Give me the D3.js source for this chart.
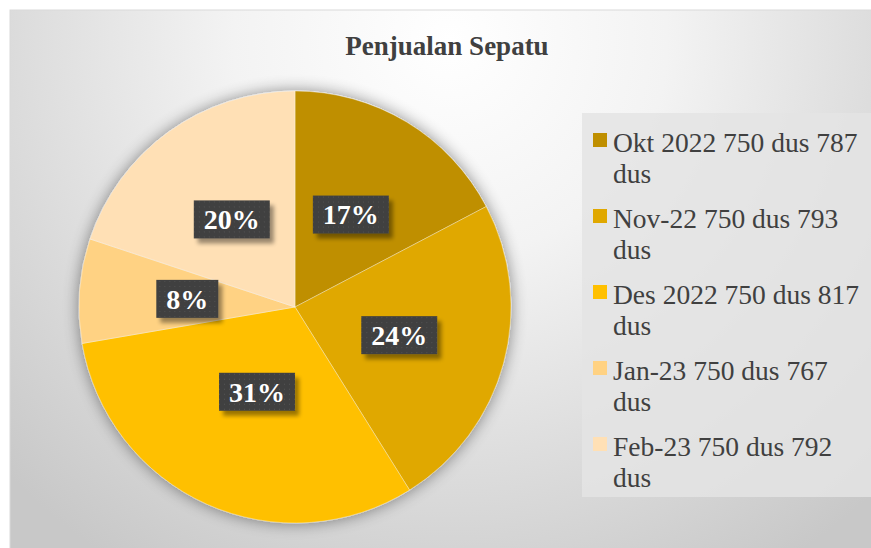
<!DOCTYPE html>
<html>
<head>
<meta charset="utf-8">
<script src="https://cdn.jsdelivr.net/npm/d3@7"></script>
<style>
  body { margin: 0; background: #fff; }
  #vis_container { width: 871px; height: 548px; }
</style>
</head>
<body>
<div id="vis_container"></div>
<script>
// data
var categories = ["Okt 2022 750 dus 787 dus", "Nov-22 750 dus 793 dus", "Des 2022 750 dus 817 dus", "Jan-23 750 dus 767 dus", "Feb-23 750 dus 792 dus"];
var shares = [17.3, 23.8, 31.2, 7.8, 19.9];
var colors = ["#BF8F00", "#E0A800", "#FFC000", "#FFD283", "#FFE0B5"];
var labelPos = [0.5, 0.5, 0.43, 0.5, 0.5]; // label distance as a share of the radius
var title = "Penjualan Sepatu";

var width = 871, height = 548;
var cx = 295, cy = 307, radius = 216;
var serif = "'Liberation Serif', 'Times New Roman', 'DejaVu Serif', serif";

var svg = d3.select("#vis_container").append("svg")
  .attr("width", width)
  .attr("height", height);

var defs = svg.append("defs");

// panel background gradient
var bg = defs.append("radialGradient")
  .attr("id", "bgGrad")
  .attr("gradientUnits", "userSpaceOnUse")
  .attr("cx", 450).attr("cy", 40).attr("r", 620);
bg.append("stop").attr("offset", "0%").attr("stop-color", "#ffffff");
bg.append("stop").attr("offset", "35%").attr("stop-color", "#f3f3f3");
bg.append("stop").attr("offset", "100%").attr("stop-color", "#c8c8c8");

// soft shadow for the pie
var f = defs.append("filter").attr("id", "pieShadow")
  .attr("x", "-20%").attr("y", "-20%").attr("width", "140%").attr("height", "140%");
f.append("feGaussianBlur").attr("in", "SourceAlpha").attr("stdDeviation", 8).attr("result", "b");
f.append("feComponentTransfer").attr("in", "b").attr("result", "s")
  .append("feFuncA").attr("type", "linear").attr("slope", 0.45);
var fm = f.append("feMerge");
fm.append("feMergeNode").attr("in", "s");
fm.append("feMergeNode").attr("in", "SourceGraphic");

// shadow for label boxes
var f2 = defs.append("filter").attr("id", "boxShadow")
  .attr("x", "-20%").attr("y", "-20%").attr("width", "150%").attr("height", "160%");
f2.append("feGaussianBlur").attr("in", "SourceAlpha").attr("stdDeviation", 2).attr("result", "b");
f2.append("feOffset").attr("in", "b").attr("dx", 4).attr("dy", 5).attr("result", "o");
f2.append("feComponentTransfer").attr("in", "o").attr("result", "s")
  .append("feFuncA").attr("type", "linear").attr("slope", 0.4);
var fm2 = f2.append("feMerge");
fm2.append("feMergeNode").attr("in", "s");
fm2.append("feMergeNode").attr("in", "SourceGraphic");

// dotted pattern for label boxes
var pat = defs.append("pattern").attr("id", "dots")
  .attr("width", 5).attr("height", 5).attr("patternUnits", "userSpaceOnUse");
pat.append("rect").attr("width", 5).attr("height", 5).attr("fill", "#3f3f3f");
pat.append("rect").attr("x", 2).attr("y", 2).attr("width", 1).attr("height", 1).attr("fill", "#555");

svg.append("rect")
  .attr("x", 10).attr("y", 10)
  .attr("width", width).attr("height", height)
  .attr("fill", "url(#bgGrad)")
  .attr("stroke", "#d9d9d9");

svg.append("text")
  .attr("x", 447).attr("y", 55)
  .attr("text-anchor", "middle")
  .attr("font-family", serif)
  .attr("font-weight", "bold")
  .attr("font-size", 27)
  .attr("fill", "#404040")
  .text(title);

var pie = d3.pie().sort(null).value(function(d) { return d; });
var arc = d3.arc().innerRadius(0).outerRadius(radius);
var arcs = pie(shares);
var total = d3.sum(shares);

var g = svg.append("g").attr("transform", "translate(" + cx + "," + cy + ")");

g.append("g").attr("filter", "url(#pieShadow)")
  .selectAll("path")
  .data(arcs)
  .enter()
  .append("path")
    .attr("d", arc)
    .attr("fill", function(d, i) { return colors[i]; })
    .attr("stroke", "rgba(255,255,255,0.35)")
    .attr("stroke-width", 1);

var labels = g.selectAll(".lbl")
  .data(arcs)
  .enter()
  .append("g")
    .attr("class", "lbl")
    .attr("transform", function(d, i) {
      var r = radius * labelPos[i];
      var c = d3.arc().innerRadius(r).outerRadius(r).centroid(d);
      return "translate(" + c[0] + "," + c[1] + ")";
    });

labels.append("text")
  .attr("text-anchor", "middle")
  .attr("dy", "0.35em")
  .attr("font-family", serif)
  .attr("font-weight", "bold")
  .attr("font-size", 28)
  .attr("fill", "#fff")
  .text(function(d) { return Math.round(d.value / total * 100) + "%"; })
  .each(function() {
    var bb = this.getBBox();
    d3.select(this.parentNode).insert("rect", "text")
      .attr("x", bb.x - 10).attr("y", -19)
      .attr("width", bb.width + 20).attr("height", 38)
      .attr("fill", "url(#dots)")
      .attr("filter", "url(#boxShadow)");
  });

// legend
var legend = svg.append("g");
legend.append("rect")
  .attr("x", 582).attr("y", 113)
  .attr("width", 295).attr("height", 384)
  .attr("fill", "#e4e4e4")
  .attr("opacity", 0.85);

var items = legend.selectAll(".item")
  .data(categories)
  .enter()
  .append("g")
    .attr("class", "item")
    .attr("transform", function(d, i) { return "translate(593," + (133 + i * 76) + ")"; });

items.append("rect")
  .attr("x", 0).attr("y", 0)
  .attr("width", 14).attr("height", 14)
  .attr("fill", function(d, i) { return colors[i]; });

items.append("text")
  .attr("font-family", serif)
  .attr("font-size", 27.5)
  .attr("fill", "#404040")
  .each(function(d) {
    var t = d3.select(this);
    var parts = d.split(" ");
    var last = parts.pop();
    t.append("tspan").attr("x", 20).attr("y", 19).text(parts.join(" "));
    t.append("tspan").attr("x", 20).attr("y", 50).text(last);
  });
</script>
</body>
</html>
